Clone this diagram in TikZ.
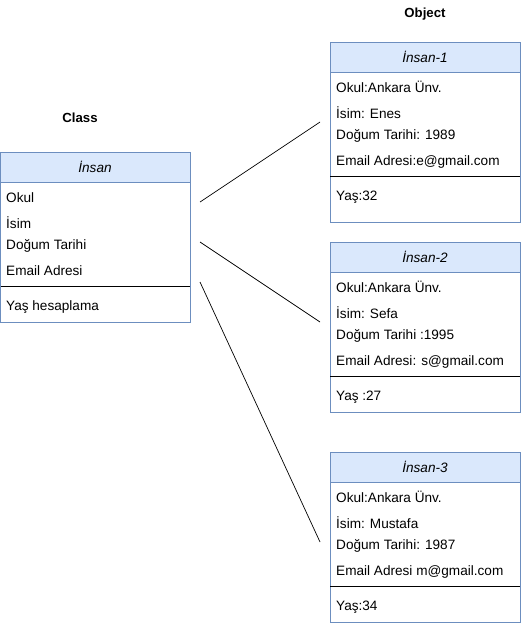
\documentclass[tikz,border=0pt]{standalone}
\usepackage{fontspec}
\setmainfont{Liberation Sans}
\begin{document}
\begin{tikzpicture}[x=1pt,y=-1pt,
  box/.style={draw=boxstroke,fill=white,line width=0.8pt},
  head/.style={draw=boxstroke,fill=boxfill,line width=0.8pt},
  txt/.style={anchor=base west,inner sep=0pt,font=\fontsize{13.6}{15}\selectfont},
  htxt/.style={anchor=base,inner sep=0pt,font=\fontsize{13.6}{15}\selectfont\itshape},
  ttl/.style={anchor=base,inner sep=0pt,font=\fontsize{13.2}{15}\selectfont\bfseries},
  sep/.style={draw=black,line width=0.8pt},
  conn/.style={draw=black,line width=0.7pt}]
\definecolor{boxfill}{HTML}{DAE8FC}
\definecolor{boxstroke}{HTML}{6C8EBF}
\useasboundingbox (0,0) rectangle (522,626);
% titles
\node[ttl] (tclass) at (80,122.5) {Class};
\node[ttl] (tobj) at (425,17.5) {Object};
% class box
\path[box] (0.5,152) rectangle (190,322);
\path[head] (0.5,152) rectangle (190,182);
\draw[sep] (0.5,286) -- (190,286);
\node[htxt] (hc) at (95,172.5) {İnsan};
\node[txt] (c1) at (6,202.5) {Okul};
\node[txt] (c2) at (6,228.5) {İsim};
\node[txt] (c3) at (6,249.5) {Doğum Tarihi};
\node[txt] (c4) at (6,275.5) {Email Adresi};
\node[txt] (c5) at (6,310.5) {Yaş hesaplama};
% object 1
\path[box] (330,42) rectangle (520,222);
\path[head] (330,42) rectangle (520,72);
\draw[sep] (330,176.5) -- (520,176.5);
\node[htxt] (h1) at (425,62.5) {İnsan-1};
\node[txt] (a1) at (336,92.5) {Okul:Ankara Ünv.};
\node[txt] (a2) at (336,118.5) {İsim: Enes};
\node[txt] (a3) at (336,139.5) {Doğum Tarihi: 1989};
\node[txt] (a4) at (336,165.5) {Email Adresi:e@gmail.com};
\node[txt] (a5) at (336,200.5) {Yaş:32};
% object 2
\path[box] (330,242) rectangle (520,412);
\path[head] (330,242) rectangle (520,272);
\draw[sep] (330,376.5) -- (520,376.5);
\node[htxt] (h2) at (425,262.5) {İnsan-2};
\node[txt] (b1) at (336,292.5) {Okul:Ankara Ünv.};
\node[txt] (b2) at (336,318.5) {İsim: Sefa};
\node[txt] (b3) at (336,339.5) {Doğum Tarihi :1995};
\node[txt] (b4) at (336,365.5) {Email Adresi: s@gmail.com};
\node[txt] (b5) at (336,400.5) {Yaş :27};
% object 3
\path[box] (330,452) rectangle (520,622);
\path[head] (330,452) rectangle (520,482);
\draw[sep] (330,586.5) -- (520,586.5);
\node[htxt] (h3) at (425,472.5) {İnsan-3};
\node[txt] (d1) at (336,502.5) {Okul:Ankara Ünv.};
\node[txt] (d2) at (336,528.5) {İsim: Mustafa};
\node[txt] (d3) at (336,549.5) {Doğum Tarihi: 1987};
\node[txt] (d4) at (336,575.5) {Email Adresi m@gmail.com};
\node[txt] (d5) at (336,610.5) {Yaş:34};
% connectors
\coordinate (s1) at (200,202);
\coordinate (e1) at (320,122);
\coordinate (s2) at (200,242);
\coordinate (e2) at (320,322);
\coordinate (s3) at (200,282);
\coordinate (e3) at (320,542);
\draw[conn] (s1) -- (e1);
\draw[conn] (s2) -- (e2);
\draw[conn] (s3) -- (e3);
\end{tikzpicture}
\end{document}
